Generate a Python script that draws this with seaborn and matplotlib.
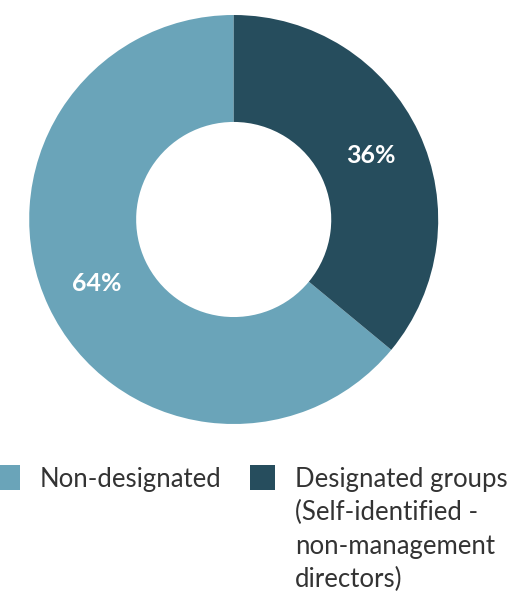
import matplotlib.pyplot as plt
import seaborn as sns
from matplotlib.patches import Rectangle

# Data
labels = ["Non-designated", "Designated groups\n(Self-identified -\nnon-management\ndirectors)"]
values = [64, 36]
colors = ["#6AA4B9", "#264D5D"]

sns.set_theme(style="white")
plt.rcParams["font.family"] = ["Lato", "DejaVu Sans"]

W, H = 509, 592
fig = plt.figure(figsize=(W / 100, H / 100), dpi=100)

# Donut chart
cx, cy, r = 233.7, 219.5, 204.5
ax = fig.add_axes([(cx - r) / W, (H - cy - r) / H, 2 * r / W, 2 * r / H])
wedges, texts, autotexts = ax.pie(
    values,
    colors=colors,
    startangle=90,
    counterclock=True,
    autopct="%d%%",
    pctdistance=0.74,
    wedgeprops=dict(width=0.523, linewidth=0),
    textprops=dict(color="white", fontsize=18, fontweight="bold"),
)
ax.set_xlim(-1, 1)
ax.set_ylim(-1, 1)
ax.set_aspect("equal")
ax.axis("off")

# Legend (manual layout, one text per line)
sq = 25
legend_x = [-5, 250]
text_x = [40, 295]
line_gap = 33.3
for i, lab in enumerate(labels):
    fig.add_artist(Rectangle((legend_x[i] / W, (H - 490) / H), sq / W, sq / H,
                             transform=fig.transFigure, facecolor=colors[i],
                             edgecolor="none"))
    for j, line in enumerate(lab.split("\n")):
        fig.text(text_x[i] / W, (H - 487 - j * line_gap) / H, line,
                 ha="left", va="baseline", fontsize=18.5, color="#333333")

plt.savefig("out.png", dpi=100)
